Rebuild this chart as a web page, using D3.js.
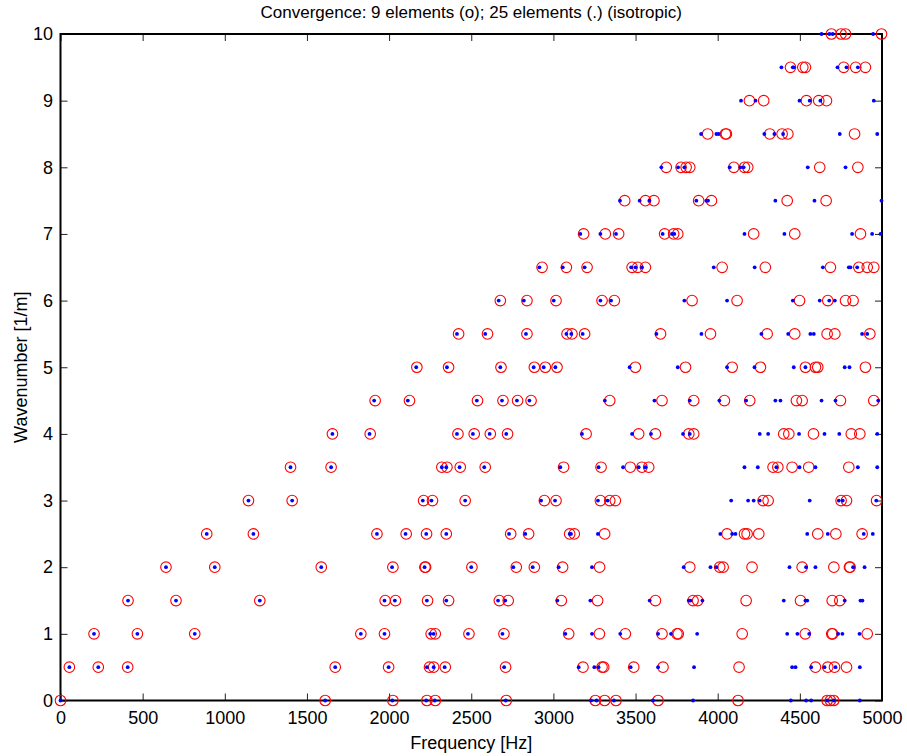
<!DOCTYPE html>
<html>
<head>
<meta charset="utf-8">
<script src="https://cdn.jsdelivr.net/npm/d3@7"></script>
<style>
  html, body { margin: 0; padding: 0; background: #fff; }
  svg { display: block; font-family: "Liberation Sans", Arial, sans-serif; }
</style>
</head>
<body>
<svg id="chart" width="907" height="756"></svg>
<script>
// Wavenumber rows (1/m)
const wavenumbers = [0, 0.5, 1, 1.5, 2, 2.5, 3, 3.5, 4, 4.5, 5, 5.5, 6, 6.5, 7, 7.5, 8, 8.5, 9, 9.5, 10];

// Eigenfrequencies (Hz) per wavenumber row, 9-element model (circles)
const freq9 = [
  [0, 1611, 2023, 2230, 2281, 2713, 3255, 3312, 3381, 3637, 4124, 4666, 4686, 4706],
  [54, 230, 409, 1672, 1997, 2246, 2271, 2342, 2709, 3180, 3296, 3306, 3489, 3667, 4130, 4595, 4670, 4711, 4784],
  [204, 468, 817, 1828, 1972, 2256, 2281, 2486, 2699, 3093, 3280, 3438, 3661, 3752, 3760, 4149, 4533, 4694, 4700, 4910],
  [411, 703, 1213, 1976, 2039, 2234, 2362, 2671, 2725, 3048, 3269, 3621, 3850, 3878, 4173, 4504, 4697, 4743],
  [642, 939, 1587, 2023, 2218, 2222, 2504, 2774, 2884, 3056, 3281, 3830, 4012, 4033, 4209, 4514, 4707, 4802, 4806],
  [890, 1174, 1926, 2104, 2228, 2348, 2740, 2849, 3099, 3127, 3312, 4057, 4163, 4179, 4250, 4609, 4719, 4879],
  [1144, 1410, 2210, 2264, 2463, 2945, 3016, 3286, 3343, 3377, 4276, 4307, 4751, 4784, 4967],
  [1400, 1647, 2321, 2352, 2433, 2585, 3062, 3290, 3468, 3539, 3580, 4337, 4366, 4453, 4554, 4798],
  [1655, 1885, 2419, 2518, 2616, 2721, 3199, 3519, 3621, 3824, 3854, 4402, 4433, 4583, 4813, 4865],
  [1915, 2124, 2538, 2693, 2782, 2864, 3343, 3661, 3854, 4041, 4195, 4479, 4514, 4747, 4950],
  [2169, 2362, 2681, 2884, 2951, 3022, 3499, 3804, 4088, 4260, 4534, 4595, 4609, 4899],
  [2423, 2599, 2839, 3083, 3113, 3190, 3652, 3956, 4301, 4469, 4666, 4713, 4926],
  [2677, 2839, 3016, 3296, 3371, 3844, 4118, 4498, 4670, 4778, 4824],
  [2931, 3079, 3205, 3479, 3513, 3560, 4027, 4290, 4686, 4859, 4910, 4950],
  [3184, 3316, 3397, 3677, 3732, 3757, 4219, 4469, 4869],
  [3434, 3560, 3612, 3884, 3962, 4423, 4660],
  [3687, 3777, 3808, 3830, 4098, 4163, 4183, 4621, 4853],
  [3939, 4047, 4053, 4317, 4392, 4427, 4833],
  [4193, 4280, 4540, 4615, 4662],
  [4443, 4518, 4534, 4767, 4840, 4899],
  [4692, 4751, 4778, 4997]
];

// Eigenfrequencies (Hz) per wavenumber row, 25-element model (dots)
const freq25 = [
  [0, 1611, 2020, 2226, 2278, 2710, 3229, 3263, 3369, 3606, 3850, 4445, 4538, 4569, 4668, 4707, 4865],
  [54, 230, 409, 1672, 1997, 2230, 2271, 2338, 2700, 3154, 3249, 3275, 3470, 3637, 3856, 4453, 4474, 4569, 4650, 4717, 4865],
  [204, 468, 817, 1828, 1972, 2250, 2271, 2480, 2690, 3073, 3235, 3407, 3637, 3716, 3875, 4423, 4485, 4557, 4733, 4759, 4863],
  [411, 703, 1213, 1972, 2035, 2230, 2348, 2663, 2707, 3024, 3225, 3586, 3824, 3834, 3907, 4402, 4534, 4545, 4773, 4869, 4881],
  [642, 939, 1587, 2018, 2216, 2500, 2756, 2874, 3032, 3235, 3793, 3956, 3992, 4437, 4538, 4595, 4824, 4894],
  [890, 1174, 1926, 2100, 2226, 2348, 2730, 2829, 3099, 3107, 3271, 4016, 4088, 4108, 4545, 4670, 4889, 4944],
  [1144, 1410, 2205, 2258, 2463, 2925, 3010, 3271, 3330, 4082, 4185, 4219, 4256, 4560, 4737, 4761, 4965],
  [1400, 1647, 2321, 2348, 2429, 2579, 3042, 3275, 3424, 3519, 3560, 4163, 4244, 4357, 4498, 4595, 4853, 4971],
  [1655, 1881, 2413, 2510, 2612, 2713, 3174, 3479, 3594, 3789, 3830, 4256, 4307, 4495, 4650, 4740, 4971],
  [1909, 2114, 2534, 2687, 2778, 2854, 3313, 3615, 3830, 4010, 4173, 4351, 4382, 4632, 4717, 4977],
  [2165, 2352, 2677, 2880, 2941, 3012, 3464, 3757, 4057, 4224, 4463, 4534, 4773, 4802],
  [2413, 2585, 2833, 3079, 3109, 3178, 3627, 3901, 4266, 4429, 4564, 4585, 4879, 4910],
  [2667, 2820, 3002, 3286, 3351, 3797, 4057, 4457, 4621, 4679, 4713],
  [2915, 3057, 3190, 3473, 3499, 3539, 3976, 4225, 4640, 4798, 4808, 4849],
  [3164, 3286, 3381, 3665, 3722, 3736, 4163, 4406, 4818, 4940, 4991],
  [3405, 3525, 3584, 3870, 3931, 3941, 4351, 4589, 4997],
  [3657, 3759, 3797, 4073, 4138, 4158, 4548, 4778],
  [3899, 3992, 4006, 4284, 4345, 4398, 4743, 4971],
  [4142, 4230, 4498, 4560, 4625, 4950],
  [4388, 4457, 4463, 4729, 4784, 4853],
  [4632, 4680, 4700, 4946]
];

const xTicks = [0, 500, 1000, 1500, 2000, 2500, 3000, 3500, 4000, 4500, 5000];
const yTicks = [0, 1, 2, 3, 4, 5, 6, 7, 8, 9, 10];

const titleText = "Convergence: 9 elements (o); 25 elements (.) (isotropic)";
const xLabel = "Frequency [Hz]";
const yLabel = "Wavenumber [1/m]";

// Layout
const svg = d3.select("#chart");
const plotLeft = 60.5, plotRight = 882, plotTop = 34, plotBottom = 700.5;

const x = d3.scaleLinear().domain([0, 5000]).range([plotLeft, plotRight]);
const y = d3.scaleLinear().domain([0, 10]).range([plotBottom, plotTop]);

// Flatten row arrays into point lists
const pts9 = [], pts25 = [];
wavenumbers.forEach((k, i) => {
  freq9[i].forEach(f => pts9.push({ f, k }));
  freq25[i].forEach(f => pts25.push({ f, k }));
});

// Axes box with inward ticks on all four sides
const tickLen = 7;
const axisFont = "18px";

const gBottom = svg.append("g").attr("transform", `translate(0,${plotBottom})`)
  .call(d3.axisBottom(x).tickValues(xTicks).tickSize(-tickLen).tickPadding(10.5).tickFormat(d3.format("d")));
const gTop = svg.append("g").attr("transform", `translate(0,${plotTop})`)
  .call(d3.axisTop(x).tickValues(xTicks).tickSize(-tickLen).tickFormat(""));
const gLeft = svg.append("g").attr("transform", `translate(${plotLeft},0)`)
  .call(d3.axisLeft(y).tickValues(yTicks).tickSize(-tickLen).tickPadding(7.5).tickFormat(d3.format("d")));
const gRight = svg.append("g").attr("transform", `translate(${plotRight},0)`)
  .call(d3.axisRight(y).tickValues(yTicks).tickSize(-tickLen).tickFormat(""));

[gBottom, gTop, gLeft, gRight].forEach(g => {
  g.select(".domain").remove();
  g.selectAll(".tick line").attr("stroke", "#222").attr("stroke-width", 1);
  g.selectAll("text").attr("fill", "#000").style("font-size", axisFont)
    .style("font-family", "'Liberation Sans', Arial, sans-serif");
});

svg.append("rect")
  .attr("x", plotLeft).attr("y", plotTop)
  .attr("width", plotRight - plotLeft).attr("height", plotBottom - plotTop)
  .attr("fill", "none").attr("stroke", "#000").attr("stroke-width", 2);

// 9-element results: open red circles
svg.append("g").selectAll("circle").data(pts9).join("circle")
  .attr("cx", d => x(d.f)).attr("cy", d => y(d.k))
  .attr("r", 5.3)
  .attr("fill", "none").attr("stroke", "#ff0000").attr("stroke-width", 1.1);

// 25-element results: blue dots
svg.append("g").selectAll("circle").data(pts25).join("circle")
  .attr("cx", d => x(d.f)).attr("cy", d => y(d.k))
  .attr("r", 1.9)
  .attr("fill", "#0000ff");

// Titles
svg.append("text").attr("x", (plotLeft + plotRight) / 2).attr("y", 18)
  .attr("text-anchor", "middle").style("font-size", "17px").text(titleText);
svg.append("text").attr("x", (plotLeft + plotRight) / 2).attr("y", 749)
  .attr("text-anchor", "middle").style("font-size", "18px").text(xLabel);
svg.append("text")
  .attr("transform", `translate(27,${(plotTop + plotBottom) / 2}) rotate(-90)`)
  .attr("text-anchor", "middle").style("font-size", "18px").text(yLabel);
</script>
</body>
</html>
